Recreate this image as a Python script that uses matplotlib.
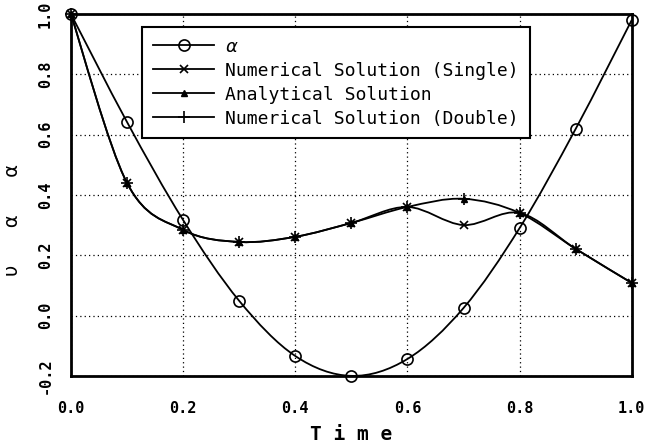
import numpy as np
import matplotlib
matplotlib.use('Agg')
import matplotlib.pyplot as plt
from matplotlib.path import Path
from matplotlib.patches import PathPatch
from matplotlib.lines import Line2D

# values
time = [0.0, 0.1, 0.2, 0.3, 0.4, 0.5, 0.6, 0.7, 0.8, 0.9, 1.0]
alpha = [1.0, 0.642, 0.317, 0.049, -0.134, -0.2, -0.144, 0.025, 0.29, 0.619, 0.98]
analytical = [1.0, 0.44, 0.284, 0.244, 0.261, 0.307, 0.36, 0.387, 0.34, 0.221, 0.108]
single = [1.0, 0.44, 0.284, 0.244, 0.261, 0.307, 0.36, 0.30, 0.34, 0.221, 0.108]
double = [1.0, 0.44, 0.284, 0.244, 0.261, 0.307, 0.36, 0.387, 0.34, 0.221, 0.108]
xticks = [0.0, 0.2, 0.4, 0.6, 0.8, 1.0]
yticks = [-0.2, 0.0, 0.2, 0.4, 0.6, 0.8, 1.0]
labels = ['$\\alpha$', 'Numerical Solution (Single)', 'Analytical Solution',
          'Numerical Solution (Double)']


def smooth_path(xs, ys):
    # catmull-rom curve through the points, drawn as bezier segments
    pts = np.column_stack([xs, ys])
    ext = np.vstack([pts[0], pts, pts[-1]])
    verts = [pts[0]]
    codes = [Path.MOVETO]
    for i in range(len(pts) - 1):
        p0, p1, p2, p3 = ext[i], ext[i + 1], ext[i + 2], ext[i + 3]
        verts += [p1 + (p2 - p0) / 6, p2 - (p3 - p1) / 6, p2]
        codes += [Path.CURVE4] * 3
    return Path(verts, codes)


plt.rcParams['mathtext.fontset'] = 'dejavusans'
mono = 'DejaVu Sans Mono'

fig = plt.figure(figsize=(6.5, 4.48), dpi=100)
ax = fig.add_axes([0.109, 0.161, 0.863, 0.808])
ax.set_xlim(0, 1)
ax.set_ylim(-0.2, 1.0)

for ys in [single, analytical, alpha]:
    ax.add_patch(PathPatch(smooth_path(time, ys), fill=False,
                           edgecolor='black', lw=1.3))

ax.plot(time, alpha, 'o', ms=8, mfc='none', mec='black', mew=1.2, clip_on=False)
ax.plot(time, single, 'x', ms=6, mec='black', mew=1.2, clip_on=False)
ax.plot(time, analytical, '^', ms=4, color='black', clip_on=False)
ax.plot(time, double, '+', ms=8, mec='black', mew=1.2, clip_on=False)

ax.set_xticks(xticks)
ax.set_yticks(yticks)
ax.set_xticklabels(['%.1f' % v for v in xticks], fontfamily=mono,
                   fontweight='bold', fontsize=11)
ax.set_yticklabels(['%.1f' % v for v in yticks], fontfamily=mono,
                   fontweight='bold', fontsize=11, rotation=90, va='center')
ax.tick_params(axis='x', length=0, pad=18)
ax.tick_params(axis='y', length=0, pad=13)
ax.grid(True, ls=(0, (1, 2.5)), color='black', lw=0.9)
for s in ax.spines.values():
    s.set_linewidth(2)

ax.set_xlabel('T i m e', fontfamily=mono, fontweight='bold', fontsize=14)
ax.xaxis.set_label_coords(0.5, -0.135)
ax.set_ylabel('υ      α      α', fontsize=14)
ax.yaxis.set_label_coords(-0.087, 0.43)

handles = [
    Line2D([], [], color='black', lw=1.3, marker='o', ms=8, mfc='none', mew=1.2),
    Line2D([], [], color='black', lw=1.3, marker='x', ms=6, mew=1.2),
    Line2D([], [], color='black', lw=1.3, marker='^', ms=4),
    Line2D([], [], color='black', lw=1.3, marker='+', ms=8, mew=1.2),
]
leg = ax.legend(handles, labels, loc='upper left', bbox_to_anchor=(0.127, 0.964),
                borderaxespad=0, prop={'family': mono, 'size': 13},
                handlelength=3.4, handletextpad=0.6, labelspacing=0.33,
                borderpad=0.6, numpoints=1, fancybox=False, framealpha=1)
leg.get_frame().set_edgecolor('black')
leg.get_frame().set_linewidth(1.5)

fig.savefig('out.png', dpi=100)
